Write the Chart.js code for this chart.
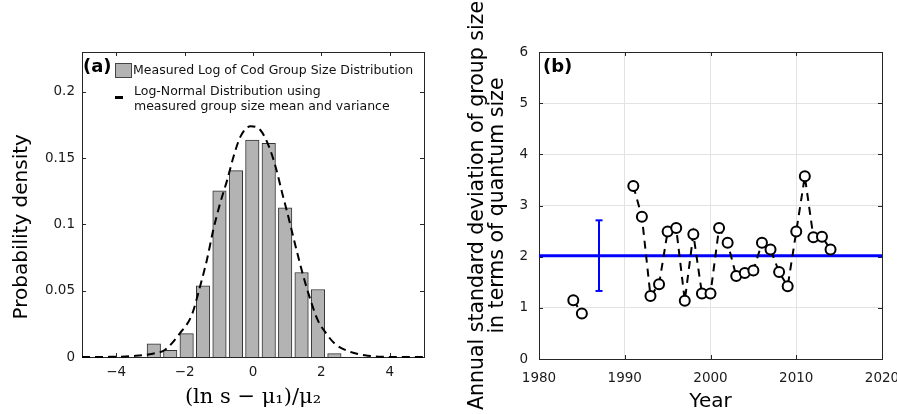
<!DOCTYPE html>
<html>
<head>
<meta charset="utf-8">
<script src="https://cdn.jsdelivr.net/npm/chart.js@4.4.1/dist/chart.umd.min.js"></script>
<style>
  html, body { margin: 0; padding: 0; background: #fff; }
  #wrap { position: relative; width: 897px; height: 414px; overflow: hidden; font-family: "DejaVu Sans", sans-serif; }
  #left { position: absolute; left: 0; top: 0; }
  #right { position: absolute; left: 448px; top: 0; }
  .lab { position: absolute; font-weight: bold; font-size: 18px; color: #000; }
  .leg { position: absolute; font-size: 12.5px; color: #111; white-space: nowrap; line-height: 15px; }
  .sw { position: absolute; width: 15px; height: 13px; background: #b3b3b3; border: 1px solid #444; }
  .dash { position: absolute; width: 8px; height: 3px; background: #000; }
</style>
</head>
<body>
<div id="wrap">
  <canvas id="left" width="448" height="414"></canvas>
  <canvas id="right" width="449" height="414"></canvas>
  <div class="lab" style="left:83px;top:55px;">(a)</div>
  <div class="sw" style="left:115px;top:63px;"></div>
  <div class="leg" style="left:133px;top:62px;">Measured Log of Cod Group Size Distribution</div>
  <div class="dash" style="left:115px;top:96px;"></div>
  <div class="leg" style="left:134px;top:83px;">Log-Normal Distribution using<br>measured group size mean and variance</div>
  <div class="lab" style="left:543px;top:55px;">(b)</div>
</div>
<script>
// panel (a): histogram of normalised log group size
var binCenters = [-2.9, -2.42, -1.94, -1.46, -0.98, -0.5, -0.02, 0.46, 0.94, 1.42, 1.9, 2.38];
var binHeights = [0.010, 0.005, 0.0176, 0.0537, 0.1254, 0.1405, 0.1636, 0.1611, 0.1124, 0.0637, 0.0509, 0.0025];
var curveX = [-5, -4.2, -3.47, -2.93, -2.58, -2.14, -1.79, -1.55, -1.35, -1.16, -0.96, -0.76, -0.57, -0.37, -0.07, 0.22, 0.47, 0.66, 0.86, 1.06, 1.25, 1.45, 1.65, 1.89, 2.14, 2.38, 2.78, 3.27, 3.76, 4.4, 5];
var curveY = [0, 0.0001, 0.0008, 0.0025, 0.0053, 0.0178, 0.0317, 0.053, 0.073, 0.096, 0.116, 0.133, 0.151, 0.166, 0.174, 0.171, 0.1585, 0.1435, 0.123, 0.103, 0.083, 0.063, 0.0455, 0.028, 0.0178, 0.0103, 0.0045, 0.0013, 0.0002, 0, 0];
var xTicksA = [-4, -2, 0, 2, 4];
var yTicksA = [0, 0.05, 0.1, 0.15, 0.2];

// panel (b): annual standard deviation
var years = [1984, 1985, 1986, 1987, 1988, 1989, 1990, 1991, 1992, 1993, 1994, 1995, 1996, 1997, 1998, 1999, 2000, 2001, 2002, 2003, 2004, 2005, 2006, 2007, 2008, 2009, 2010, 2011, 2012, 2013, 2014];
var stdDev = [1.15, 0.89, null, null, null, null, null, 3.38, 2.78, 1.23, 1.46, 2.49, 2.56, 1.14, 2.44, 1.28, 1.28, 2.56, 2.27, 1.62, 1.68, 1.73, 2.27, 2.14, 1.70, 1.42, 2.49, 3.57, 2.38, 2.39, 2.14];
var meanStd = 2.02;
var errYear = 1987;
var errLow = 1.33;
var errHigh = 2.71;
var xTicksB = [1980, 1990, 2000, 2010, 2020];
var yTicksB = [0, 1, 2, 3, 4, 5, 6];

const tickFont = { family: 'DejaVu Sans', size: 13.5 };

// frame box with inward ticks on all sides
const frameTicks = {
    id: 'frameTicks',
    beforeDatasetsDraw(chart) {
        const { ctx, chartArea: a, scales: { x, y } } = chart;
        ctx.save();
        ctx.strokeStyle = '#262626';
        ctx.lineWidth = 1;
        ctx.beginPath();
        x.ticks.forEach(function (t) {
            const px = Math.round(x.getPixelForValue(t.value)) + 0.5;
            ctx.moveTo(px, a.bottom); ctx.lineTo(px, a.bottom - 4);
            ctx.moveTo(px, a.top); ctx.lineTo(px, a.top + 4);
        });
        y.ticks.forEach(function (t) {
            const py = Math.round(y.getPixelForValue(t.value)) + 0.5;
            ctx.moveTo(a.left, py); ctx.lineTo(a.left + 4, py);
            ctx.moveTo(a.right, py); ctx.lineTo(a.right - 4, py);
        });
        ctx.stroke();
        ctx.strokeRect(Math.round(a.left) + 0.5, Math.round(a.top) + 0.5, Math.round(a.right - a.left), Math.round(a.bottom - a.top));
        ctx.restore();
    }
};

function noPad(s) {
    s.paddingLeft = 0; s.paddingRight = 0; s.paddingTop = 0; s.paddingBottom = 0;
}

const ctxA = document.getElementById('left').getContext('2d');
const chartA = new Chart(ctxA, {
    type: 'bar',
    data: {
        datasets: [{
            type: 'line',
            data: curveX.map(function (v, i) { return { x: v, y: curveY[i] }; }),
            borderColor: '#000',
            borderWidth: 2,
            borderDash: [8, 5],
            pointRadius: 0,
            cubicInterpolationMode: 'monotone',
            clip: false,
            order: 0
        }, {
            type: 'bar',
            data: binCenters.map(function (v, i) { return { x: v, y: binHeights[i] }; }),
            backgroundColor: '#b3b3b3',
            borderColor: '#333',
            borderWidth: 1,
            barThickness: 13.5,
            order: 1
        }]
    },
    options: {
        responsive: false,
        animation: false,
        layout: { padding: { top: 52, right: 24, left: 0, bottom: 0 } },
        plugins: { legend: { display: false }, tooltip: { enabled: false } },
        scales: {
            x: {
                type: 'linear',
                min: -5,
                max: 5,
                offset: false,
                grid: { display: false, drawTicks: false },
                border: { display: false },
                afterBuildTicks: function (s) { s.ticks = xTicksA.map(function (v) { return { value: v }; }); },
                afterFit: function (s) { s.height = 57; noPad(s); },
                ticks: { font: tickFont, color: '#1a1a1a', padding: 7, maxRotation: 0,
                    callback: function (v) { return v < 0 ? '\u2212' + Math.abs(v) : String(v); } },
                title: { display: true, text: '(ln s \u2212 \u03bc\u2081)/\u03bc\u2082', color: '#000',
                    font: { family: 'DejaVu Serif', size: 21 }, padding: { top: 0, bottom: 4 } }
            },
            y: {
                min: 0,
                max: 0.23,
                grid: { display: false, drawTicks: false },
                border: { display: false },
                afterBuildTicks: function (s) { s.ticks = yTicksA.map(function (v) { return { value: v }; }); },
                afterFit: function (s) { s.width = 82; noPad(s); },
                ticks: { font: tickFont, color: '#1a1a1a', padding: 7,
                    callback: function (v) { return String(v); } },
                title: { display: true, text: 'Probability density\u00a0\u00a0\u00a0\u00a0\u00a0\u00a0\u00a0', color: '#000',
                    font: { family: 'DejaVu Sans', size: 20 }, padding: { top: 10, bottom: 0 } }
            }
        }
    },
    plugins: [frameTicks]
});

const ctxB = document.getElementById('right').getContext('2d');
const chartB = new Chart(ctxB, {
    type: 'line',
    data: {
        datasets: [{
            data: years.map(function (v, i) { return { x: v, y: stdDev[i] }; }),
            borderColor: '#000',
            borderWidth: 2,
            borderDash: [8, 6],
            spanGaps: false,
            pointRadius: 5,
            pointBorderWidth: 2,
            pointBackgroundColor: '#fff',
            pointBorderColor: '#000',
            order: 0
        }, {
            data: [{ x: xTicksB[0], y: meanStd }, { x: xTicksB[xTicksB.length - 1], y: meanStd }],
            borderColor: '#0000ff',
            borderWidth: 3,
            pointRadius: 0,
            clip: false,
            order: 1
        }, {
            data: [{ x: errYear, y: errLow }, { x: errYear, y: errHigh }],
            borderColor: '#0000ff',
            borderWidth: 2,
            pointStyle: 'line',
            pointRadius: 3.5,
            pointBorderWidth: 2,
            pointBorderColor: '#0000ff',
            order: 1
        }]
    },
    options: {
        responsive: false,
        animation: false,
        layout: { padding: { top: 52, right: 15, left: 0, bottom: 0 } },
        plugins: { legend: { display: false }, tooltip: { enabled: false } },
        scales: {
            x: {
                type: 'linear',
                min: 1980,
                max: 2020,
                grid: { color: '#e3e3e3', drawTicks: false },
                border: { display: false },
                afterBuildTicks: function (s) { s.ticks = xTicksB.map(function (v) { return { value: v }; }); },
                afterFit: function (s) { s.height = 55; noPad(s); },
                ticks: { font: tickFont, color: '#1a1a1a', padding: 11, maxRotation: 0,
                    callback: function (v) { return String(v); } },
                title: { display: true, text: 'Year', color: '#000',
                    font: { family: 'DejaVu Sans', size: 20 }, padding: { top: 0, bottom: 0 } }
            },
            y: {
                min: 0,
                max: 6,
                grid: { color: '#e3e3e3', drawTicks: false },
                border: { display: false },
                afterBuildTicks: function (s) { s.ticks = yTicksB.map(function (v) { return { value: v }; }); },
                afterFit: function (s) { s.width = 91; noPad(s); },
                ticks: { font: tickFont, color: '#1a1a1a', padding: 11 },
                title: { display: true, text: ['Annual standard deviation of group size', 'in terms of quantum size'], color: '#000',
                    font: { family: 'DejaVu Sans', size: 20.5, lineHeight: 0.95 }, padding: { top: 20, bottom: 0 } }
            }
        }
    },
    plugins: [frameTicks]
});
</script>
</body>
</html>
